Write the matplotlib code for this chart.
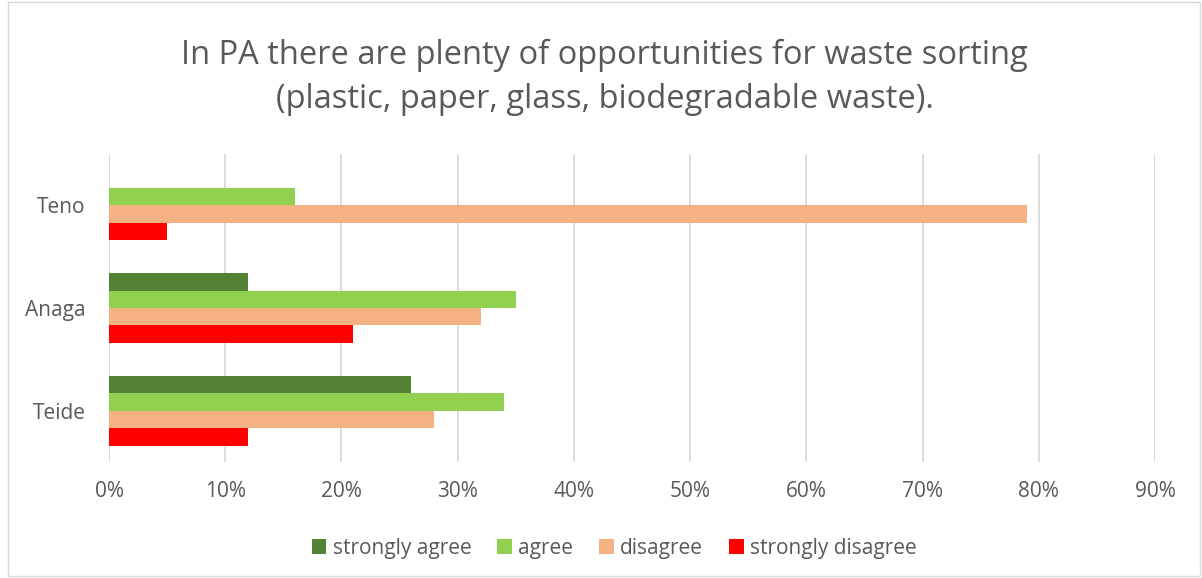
import matplotlib.pyplot as plt
import numpy as np
from matplotlib.patches import Rectangle

# Data (percent)
parks = ['Teide', 'Anaga', 'Teno']
strongly_agree = [26, 12, 0]
agree = [34, 35, 16]
disagree = [28, 32, 79]
strongly_disagree = [12, 21, 5]

series = [
    ('strongly agree', strongly_agree, '#548235'),
    ('agree', agree, '#92D050'),
    ('disagree', disagree, '#F4B183'),
    ('strongly disagree', strongly_disagree, '#FF0000'),
]

plt.rcParams['font.family'] = ['Open Sans', 'DejaVu Sans']
text_color = '#595959'

fig = plt.figure(figsize=(12.02, 5.78), dpi=100)
ax = fig.add_axes([0.0907, 0.2007, 0.8702, 0.5329])

y = np.arange(len(parks))
h = 0.17
offsets = [1.5 * h, 0.5 * h, -0.5 * h, -1.5 * h]
for (name, vals, color), off in zip(series, offsets):
    ax.barh(y + off, vals, height=h, color=color, label=name, zorder=3)

ax.set_xlim(0, 90)
ax.set_ylim(-0.5, 2.5)
ax.set_xticks(np.arange(0, 91, 10))
ax.set_xticklabels([f'{v}%' for v in range(0, 91, 10)])
ax.set_yticks(y)
ax.set_yticklabels(parks)
ax.grid(axis='x', color='#d9d9d9', linewidth=1.3, zorder=0)
for s in ax.spines.values():
    s.set_visible(False)
ax.tick_params(length=0, labelsize=15, colors=text_color)
ax.tick_params(axis='x', pad=14)
ax.tick_params(axis='y', pad=17)

fig.text(0.503, 0.866, 'In PA there are plenty of opportunities for waste sorting\n'
         '(plastic, paper, glass, biodegradable waste).',
         ha='center', va='center', fontsize=23.5, color=text_color, linespacing=1.45)

ax.legend(loc='center', bbox_to_anchor=(0.483, -0.28), ncol=4, frameon=False,
          fontsize=15, labelcolor=text_color, handlelength=0.7, handleheight=0.7,
          handletextpad=0.3, columnspacing=1.25)

fig.patches.append(Rectangle((0.007, 0.003), 0.991, 0.994, transform=fig.transFigure,
                             fill=False, edgecolor='#d9d9d9', linewidth=1))

fig.savefig('out.png', dpi=100)
